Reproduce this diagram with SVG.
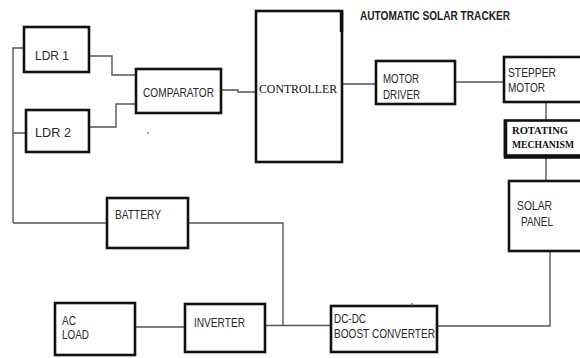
<svg xmlns="http://www.w3.org/2000/svg" width="580" height="358" viewBox="0 0 580 358">
<style>
.box{fill:#fff;stroke:#111;stroke-width:2.6}
.w{fill:none;stroke:#555;stroke-width:1.4}
.t{font-family:"Liberation Sans",Arial,sans-serif;font-size:13px;fill:#2a2a2a}
.s{font-family:"Liberation Serif","Times New Roman",serif;fill:#111}
</style>
<rect width="580" height="358" fill="#fff"/>
<text x="360" y="20" font-family="'Liberation Sans',Arial,sans-serif" font-weight="bold" font-size="12" fill="#222" textLength="150" lengthAdjust="spacingAndGlyphs">AUTOMATIC SOLAR TRACKER</text>
<g id="connectors">
<path class="w" d="M13,223 V48 H24 M13,133 H26 M13,223 H107"/>
<path class="w" d="M89,56 H112 V75 H136"/>
<path class="w" d="M89,127 H116 V104 H136"/>
<path class="w" d="M221,90 H238 V92 H256"/>
<path class="w" d="M342,84 H376"/>
<path class="w" d="M455,82 H504"/>
<path class="w" d="M546,102 V120"/>
<path class="w" d="M546,157 V181"/>
<path class="w" d="M550,251 V326 H437"/>
<path class="w" d="M188,223 H283 V325.5 M265,325.5 H331"/>
<path class="w" d="M135,327 H185"/>
</g>
<circle cx="148" cy="133" r="0.9" fill="#777"/>
<g id="ldr1"><rect class="box" x="24" y="27" width="65" height="45"/><text class="t" x="35" y="60" font-size="14" textLength="34" lengthAdjust="spacingAndGlyphs">LDR 1</text></g>
<g id="ldr2"><rect class="box" x="26" y="110" width="63" height="42"/><text class="t" x="35" y="137" font-size="14" textLength="36" lengthAdjust="spacingAndGlyphs">LDR 2</text></g>
<g id="comparator"><rect class="box" x="136" y="69" width="85" height="44"/><text class="t" x="143" y="97" textLength="71" lengthAdjust="spacingAndGlyphs">COMPARATOR</text></g>
<g id="controller"><rect class="box" x="256" y="11" width="86" height="151"/><path d="M341.5,11 V32" stroke="#111" stroke-width="3.5"/><text class="s" x="259" y="93" font-size="13.5" textLength="78" lengthAdjust="spacingAndGlyphs">CONTROLLER</text></g>
<g id="motor-driver"><rect class="box" x="376" y="61" width="79" height="43"/><text class="t" x="383" y="83" textLength="36" lengthAdjust="spacingAndGlyphs">MOTOR</text><text class="t" x="383" y="99" textLength="37" lengthAdjust="spacingAndGlyphs">DRIVER</text></g>
<g id="stepper-motor"><rect class="box" x="504" y="57" width="82" height="45"/><text class="t" x="508" y="77" textLength="48" lengthAdjust="spacingAndGlyphs">STEPPER</text><text class="t" x="508" y="92" textLength="37" lengthAdjust="spacingAndGlyphs">MOTOR</text></g>
<g id="rotating-mechanism"><rect class="box" x="505" y="120.5" width="82" height="35" stroke-width="2"/><path d="M505.5,120 V157 H586" fill="none" stroke="#111" stroke-width="3.5"/><text class="s" x="512" y="134" font-size="10.5" font-weight="bold" textLength="56" lengthAdjust="spacingAndGlyphs">ROTATING</text><text class="s" x="512" y="148" font-size="10.5" font-weight="bold" textLength="62" lengthAdjust="spacingAndGlyphs">MECHANISM</text></g>
<g id="solar-panel"><rect class="box" x="509" y="181" width="80" height="70"/><text class="t" x="517" y="210" textLength="35" lengthAdjust="spacingAndGlyphs">SOLAR</text><text class="t" x="521" y="226" textLength="32" lengthAdjust="spacingAndGlyphs">PANEL</text></g>
<g id="battery"><rect class="box" x="107" y="198" width="81" height="50"/><text class="t" x="115" y="219" textLength="46" lengthAdjust="spacingAndGlyphs">BATTERY</text></g>
<g id="ac-load"><rect class="box" x="55" y="303" width="80" height="52"/><text class="t" x="62" y="325" textLength="14" lengthAdjust="spacingAndGlyphs">AC</text><text class="t" x="62" y="339" textLength="27" lengthAdjust="spacingAndGlyphs">LOAD</text></g>
<g id="inverter"><rect class="box" x="185" y="304" width="80" height="48"/><text class="t" x="194" y="327" textLength="51" lengthAdjust="spacingAndGlyphs">INVERTER</text></g>
<g id="dc-dc"><rect class="box" x="331" y="306" width="106" height="46"/><path d="M412,303 V306" stroke="#555" stroke-width="1"/><text class="t" x="334" y="323" textLength="32" lengthAdjust="spacingAndGlyphs">DC-DC</text><text class="t" x="334" y="338" textLength="101" lengthAdjust="spacingAndGlyphs">BOOST CONVERTER</text></g>
</svg>
